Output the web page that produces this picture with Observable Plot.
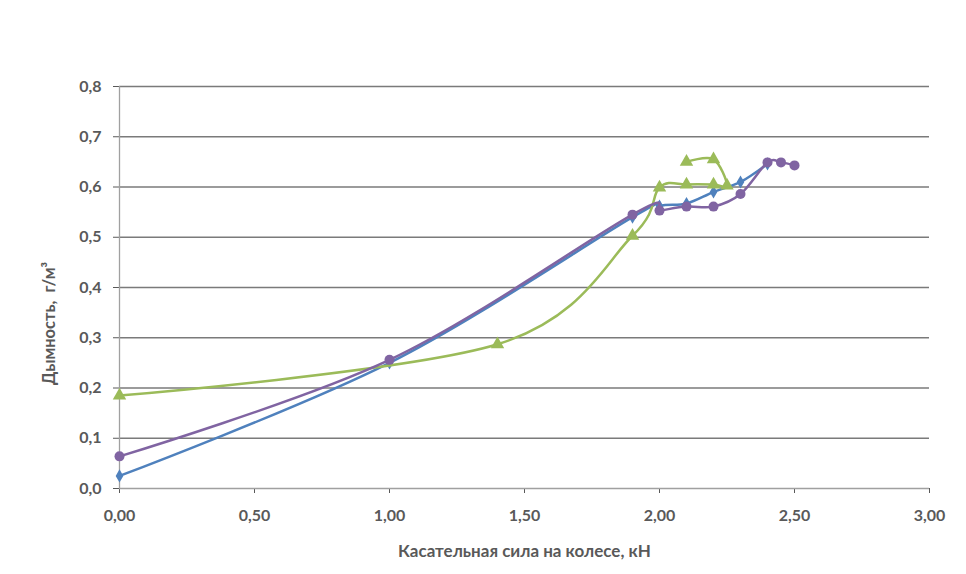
<!DOCTYPE html>
<html><head><meta charset="utf-8">
<script src="https://cdn.jsdelivr.net/npm/d3@7"></script>
<script src="https://cdn.jsdelivr.net/npm/@observablehq/plot@0.6"></script>
<style>
body{margin:0;background:#fff;}
svg{font-family:Lato,"Open Sans",sans-serif;}
</style>
</head><body>
<div id="chart"></div>
<script>
const xTicks = [0, 0.5, 1.0, 1.5, 2.0, 2.5, 3.0];
const yTicks = [0, 0.1, 0.2, 0.3, 0.4, 0.5, 0.6, 0.7, 0.8];
const xTitle = "Касательная сила на колесе, кН";
const yTitle = "Дымность,  г/м³";

const blueX = [0, 1.0, 1.9, 2.0, 2.1, 2.2, 2.3, 2.4];
const blueY = [0.025, 0.25, 0.54, 0.562, 0.567, 0.59, 0.61, 0.646];

const greenX = [0, 1.4, 1.9, 2.0, 2.1, 2.2, 2.25, 2.2, 2.1];
const greenY = [0.185, 0.287, 0.503, 0.599, 0.605, 0.605, 0.603, 0.655, 0.65];

const purpleX = [0, 1.0, 1.9, 2.0, 2.1, 2.2, 2.3, 2.4, 2.45, 2.5];
const purpleY = [0.064, 0.256, 0.545, 0.553, 0.561, 0.561, 0.586, 0.649, 0.649, 0.643];

const mk = (xs, ys) => xs.map((x, i) => ({x, y: ys[i]}));
const blue = mk(blueX, blueY), green = mk(greenX, greenY), purple = mk(purpleX, purpleY);

const cBlue = "#4f81bd", cGreen = "#9bbb59", cPurple = "#8064a2";

const fmt = (d, n) => d.toFixed(n).replace(".", ",");

const chart = Plot.plot({
  width: 966, height: 574,
  marginLeft: 119, marginRight: 37, marginTop: 86, marginBottom: 86,
  style: {fontSize: "16px", fontWeight: "bold", color: "#595959", background: "#fff"},
  x: {domain: [0, 3], ticks: xTicks, tickFormat: d => fmt(d, 2), label: null, tickSize: 5, tickPadding: 16},
  y: {domain: [0, 0.8], ticks: yTicks, tickFormat: d => fmt(d, 1), label: null, tickSize: 6, tickPadding: 12},
  marks: [
    Plot.gridY(yTicks.filter(d => d > 0), {stroke: "#7a7a7a", strokeOpacity: 1, strokeWidth: 1.3}),
    Plot.ruleX([0], {stroke: "#a0a0a0", strokeWidth: 1.3}),
    Plot.ruleY([0], {stroke: "#a0a0a0", strokeWidth: 1.3}),
    Plot.text([xTitle], {text: d => d, frameAnchor: "bottom", lineAnchor: "middle", dy: 63, fontSize: 17, fill: "#595959"}),
    Plot.text([yTitle], {text: d => d, frameAnchor: "middle", rotate: -90, dx: -475, dy: 36, fontSize: 16.5, fill: "#595959"}),
    Plot.line(blue, {x: "x", y: "y", stroke: cBlue, strokeWidth: 2.5, curve: "cardinal"}),
    Plot.dot(blue, {x: "x", y: "y", fill: cBlue, symbol: "diamond", r: 4}),
    Plot.line(green, {x: "x", y: "y", stroke: cGreen, strokeWidth: 2.5, curve: "cardinal"}),
    Plot.dot(green, {x: "x", y: "y", fill: cGreen, symbol: "triangle", r: 5}),
    Plot.line(purple, {x: "x", y: "y", stroke: cPurple, strokeWidth: 2.5, curve: "cardinal"}),
    Plot.dot(purple, {x: "x", y: "y", fill: cPurple, symbol: "circle", r: 5})
  ]
});
document.getElementById("chart").appendChild(chart);
</script>
</body></html>
